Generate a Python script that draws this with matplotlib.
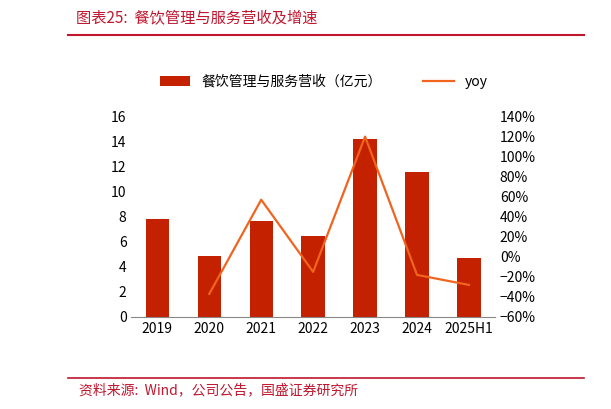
import matplotlib
matplotlib.use("Agg")
import matplotlib.pyplot as plt
from matplotlib.ticker import PercentFormatter

plt.rcParams['font.family'] = ['Noto Sans CJK SC', 'DejaVu Sans']

years = ["2019", "2020", "2021", "2022", "2023", "2024", "2025H1"]
revenue = [7.8, 4.9, 7.7, 6.5, 14.2, 11.6, 4.7]
yoy = [-37, 57, -15, 120, -18, -28]

bar_color = "#C32100"
line_color = "#F0641E"
red = "#C0162E"

fig = plt.figure(figsize=(6.11, 4.09), dpi=100)
fig.text(0.125, 0.955, "图表25:  餐饮管理与服务营收及增速", color=red, fontsize=11,
         style="italic", va="center")
fig.add_artist(plt.Line2D([0.112, 0.955], [0.915, 0.915], color=red, lw=1.5))
fig.add_artist(plt.Line2D([0.112, 0.955], [0.075, 0.075], color=red, lw=1.2))
fig.text(0.13, 0.045, "资料来源:  Wind，公司公告，国盛证券研究所", color=red, fontsize=10,
         style="italic", va="center")

ax = fig.add_axes([0.215, 0.225, 0.595, 0.49])
x = range(len(years))
ax.bar(x, revenue, width=0.45, color=bar_color, label="餐饮管理与服务营收（亿元）")
ax.set_ylim(0, 16)
ax.set_yticks(range(0, 17, 2))
ax.set_xlim(-0.5, len(years) - 0.5)
ax.set_xticks(list(x))
ax.set_xticklabels(years)
for s in ["top", "right", "left"]:
    ax.spines[s].set_visible(False)
ax.spines["bottom"].set_color("#888888")
ax.tick_params(length=0, labelsize=10)

ax2 = ax.twinx()
ax2.plot(list(range(1, len(years))), yoy, color=line_color, lw=1.6, label="yoy")
ax2.set_ylim(-60, 140)
ax2.set_yticks(range(-60, 141, 20))
ax2.yaxis.set_major_formatter(PercentFormatter(decimals=0))
for s in ["top", "right", "left", "bottom"]:
    ax2.spines[s].set_visible(False)
ax2.tick_params(length=0, labelsize=10)

h1, l1 = ax.get_legend_handles_labels()
h2, l2 = ax2.get_legend_handles_labels()
fig.legend(h1 + h2, l1 + l2, loc="center", bbox_to_anchor=(0.53, 0.8), ncol=2,
           frameon=False, fontsize=10, columnspacing=3, handlelength=2.2)

fig.savefig("out.png", dpi=100)
